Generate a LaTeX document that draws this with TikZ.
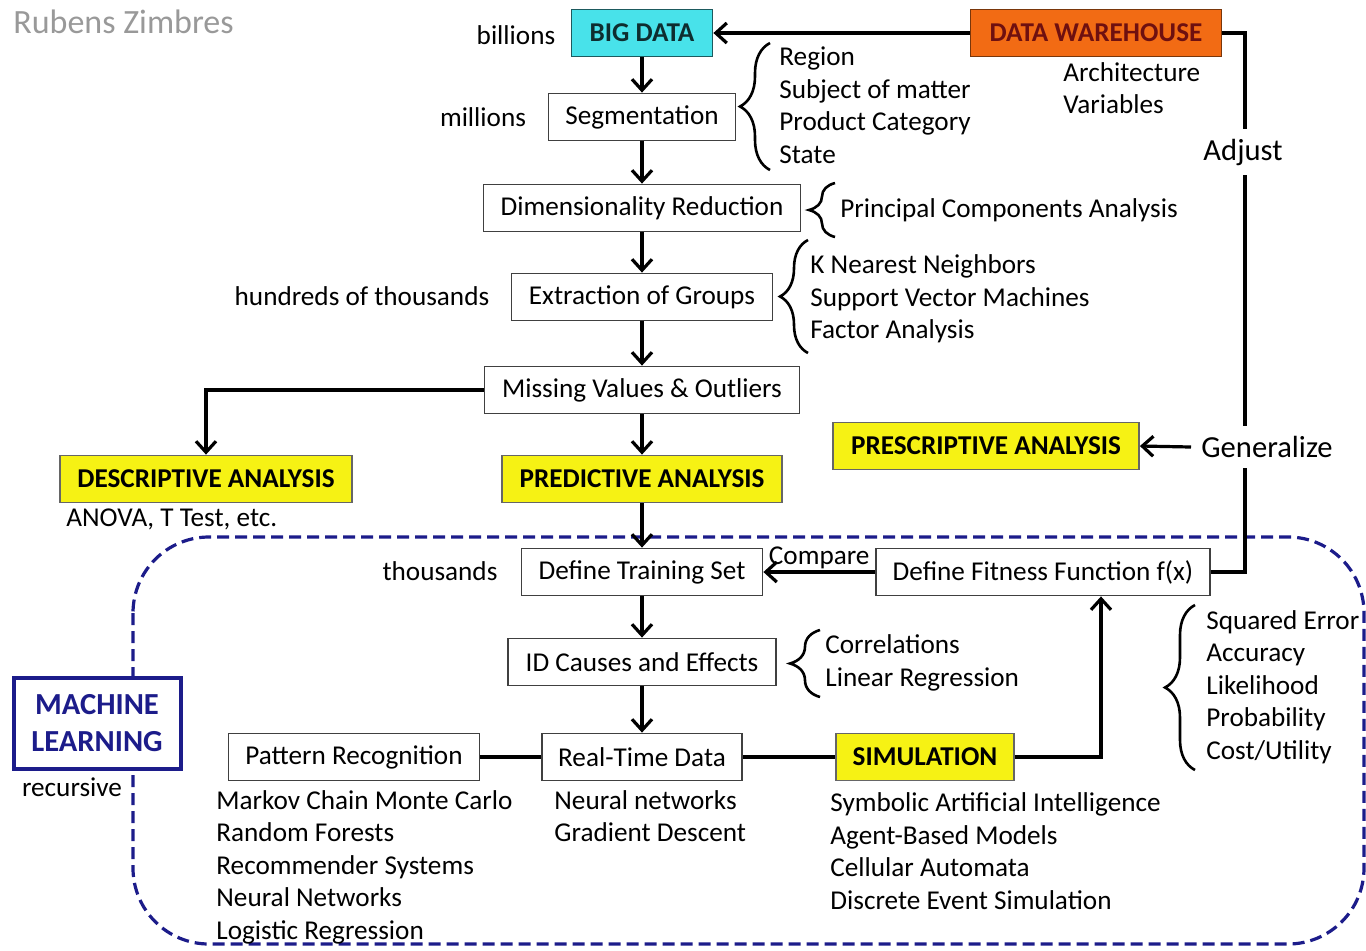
\documentclass[tikz,border=0pt]{standalone}
\usepackage{fontspec}
\setmainfont{Carlito}
\usepackage{tikz}
\usetikzlibrary{positioning, arrows.meta, decorations.pathreplacing}
\definecolor{mlblue}{HTML}{1C1C8A}
\definecolor{bdcyan}{HTML}{48E2EA}
\definecolor{whorange}{HTML}{F26B14}
\definecolor{whtext}{HTML}{6E1010}
\definecolor{hiyellow}{HTML}{F6F214}
\tikzset{base/.style={           % Plain text, Calibri-like
           font=\fontsize{13.6}{16.25}\selectfont,
           inner sep=0pt},
         note/.style={base, anchor=west, align=left},  % Side lists
         box/.style={base,       % Every step of the flow
           draw=black!75, line width=0.9pt, fill=white,
           minimum height=23.5pt},
         keybox/.style={box,     % Coloured boxes with bold capitals
           font=\fontsize{13.6}{16.25}\selectfont\bfseries,
           draw=black!60, fill=hiyellow},
         flow/.style={draw,      % Arrows between the steps
           line width=1.6pt,
           -{Straight Barb[length=5.5pt, width=10pt]}},
         link/.style={draw, line width=1.6pt},  % Lines with no head
         curly/.style={decorate, % Braces in front of the lists
           decoration={brace, amplitude=#1},
           line width=1.3pt},
         curly/.default=14pt,
         mlborder/.style={draw=mlblue, line width=1.6pt,
           dash pattern=on 6pt off 3pt}}

\begin{document}
\begin{tikzpicture}[x=0.5pt, y=-0.5pt]
\useasboundingbox (0,0) rectangle (1366,950);

% machine learning area
\draw[mlborder, rounded corners=38pt] (133,537) rectangle (1364,944);

\node[note, font=\fontsize{17}{20}\selectfont, text=black!40] (author) at (13,22) {Rubens Zimbres};

\node[keybox, fill=bdcyan, draw=black!60!bdcyan, text=black!80!bdcyan, minimum width=70.5pt] (bigdata) at (642,33) {BIG DATA};
\node[keybox, fill=whorange, draw=black!50!whorange, text=whtext, minimum width=125.5pt] (warehouse) at (1096,33) {DATA WAREHOUSE};
\node[box, minimum width=93.5pt] (seg) at (642,117) {Segmentation};
\node[box, minimum width=158.5pt] (dimred) at (642,208) {Dimensionality Reduction};
\node[box, minimum width=130.5pt] (extract) at (642,297) {Extraction of Groups};
\node[box, minimum width=157.5pt] (missing) at (642,390) {Missing Values \& Outliers};
\node[keybox, minimum width=146pt] (descr) at (206,479) {DESCRIPTIVE ANALYSIS};
\node[keybox, minimum width=140pt] (pred) at (642,479) {PREDICTIVE ANALYSIS};
\node[keybox, minimum width=153pt] (prescr) at (986,446) {PRESCRIPTIVE ANALYSIS};
\node[box, minimum width=120.5pt] (training) at (642,572) {Define Training Set};
\node[box, minimum width=167pt] (fitness) at (1043,572) {Define Fitness Function f(x)};
\node[box, minimum width=134pt] (idcause) at (642,662) {ID Causes and Effects};
\node[box, minimum width=100pt] (realtime) at (642,757) {Real-Time Data};
\node[box, minimum width=125.5pt] (pattern) at (354,757) {Pattern Recognition};
\node[keybox, minimum width=89pt] (simul) at (925,757) {SIMULATION};
\node[box, draw=mlblue, line width=2pt, text=mlblue, align=center,
      font=\fontsize{15.3}{18.5}\selectfont\bfseries,
      minimum width=83.5pt, minimum height=45.5pt] (ml) at (97,723) {MACHINE\\LEARNING};

\node[base] (billions) at (516,35) {billions};
\node[base] (millions) at (483,117) {millions};
\node[base] (hundreds) at (362,296) {hundreds of thousands};
\node[base] (thousands) at (440,571) {thousands};
\node[base] (recursive) at (72,787) {recursive};
\node[note] (anova) at (66,519) {ANOVA, T Test, etc.};

\node[note] (seglist) at (779,105) {Region\\Subject of matter\\Product Category\\State};
\node[note] (whlist) at (1063,88) {Architecture\\Variables};
\node[note] (pca) at (840,210) {Principal Components Analysis};
\node[note] (grouplist) at (810,299) {K Nearest Neighbors\\Support Vector Machines\\Factor Analysis};
\node[note] (corrlist) at (825,663) {Correlations\\Linear Regression};
\node[note] (errlist) at (1206,687) {Squared Error\\Accuracy\\Likelihood\\Probability\\Cost/Utility};
\node[note] (patternlist) at (216,867) {Markov Chain Monte Carlo\\Random Forests\\Recommender Systems\\Neural Networks\\Logistic Regression};
\node[note] (rtlist) at (554,816) {Neural networks\\Gradient Descent};
\node[note] (simlist) at (830,851) {Symbolic Artificial Intelligence\\Agent-Based Models\\Cellular Automata\\Discrete Event Simulation};

% feedback rail on the right
\coordinate (rail) at (1245,33);
\draw[link] (warehouse.east) -- (rail) |- (fitness.east);
\node[base, fill=white, inner sep=5pt, font=\fontsize{15.3}{18}\selectfont] (adjust) at (1243,152) {Adjust};
\node[base, fill=white, inner sep=5pt, font=\fontsize{15.3}{18}\selectfont] (generalize) at (1267,447) {Generalize};

\draw[flow] (warehouse.west) -- (bigdata.east);
\draw[flow] (generalize.west) -- (prescr.east);
\foreach \a/\b in {bigdata/seg, seg/dimred, dimred/extract, extract/missing,
                   missing/pred, pred/training, training/idcause, idcause/realtime}
  \draw[flow] (\a) -- (\b);
\draw[flow] (missing.west) -| (descr.north);
\draw[flow] (fitness.west) -- node[base, above=1pt] {Compare} (training.east);
\draw[link] (pattern) -- (realtime);
\draw[link] (realtime) -- (simul);
\draw[flow] (simul.east) -| ([xshift=29pt]fitness.south);

\draw[curly=15pt] (770,170) -- (770,43);
\draw[curly=13pt] (835,237) -- (835,183);
\draw[curly] (808,353) -- (808,240);
\draw[curly=15pt] (820,697) -- (820,630);
\draw[curly=15pt] (1195,770) -- (1195,605);

\end{tikzpicture}
\end{document}
